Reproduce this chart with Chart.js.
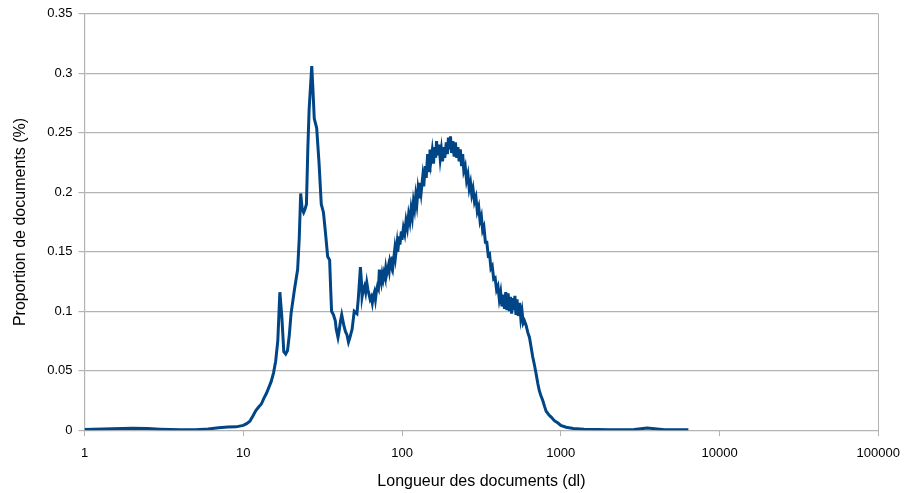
<!DOCTYPE html>
<html>
<head>
<meta charset="utf-8">
<script src="https://cdn.jsdelivr.net/npm/chart.js@4/dist/chart.umd.min.js"></script>
<style>
html,body{margin:0;padding:0;background:#fff;}
#wrap{width:909px;height:493px;position:relative;}
</style>
</head>
<body>
<div id="wrap"><canvas id="c" width="909" height="493"></canvas></div>
<script>
// Document length (dl)
const lengths = [
1,1.5,2,2.5,3,4,5,6,7,8,9,10,10.5,11,11.5,12,12.5,13,13.5,14,14.5,15,15.5,16,16.5,17,17.5,18,18.5,19,19.5,20,21,22,22.5,23,23.5,24,24.5,25,25.5,26,27,27.5,28,29,30,31,32,33,34,35,35.5,36,37,38,38.5,39.5,40,41,41.7,43,44,45,46,47,48.5,50,52,53,54.7,55.5,56,57,58,59,60,61,62,63,64,65,66,67,68,69,70,71,72,73,74,75,76,77,78,79,80,82,83,84,86,87,88,90,91,93,94,96,97,99,100,102,104,106,108,110,112,114,116,118,120,122,124,126,128,130,132,135,137,140,142,145,148,150,152,155,158,160,163,165,168,171,174,177,180,183,186,190,193,196,199,202,205,209,213,217,221,225,229,233,237,241,245,250,255,260,265,270,275,280,286,292,298,304,310,316,322,328,335,342,349,356,363,370,378,386,394,402,410,418,426,434,442,450,458,466,474,482,490,498,506,514,522,530,540,550,560,570,580,590,605,620,635,650,665,682,700,717,733,750,770,790,808,840,870,911,960,1000,1080,1200,1400,1700,2000,2500,2730,2900,3500,4500,6364
];
// Proportion of documents (%)
const proportions = [
0.0005,0.0012,0.0017,0.0014,0.0009,0.0004,0.0004,0.0010,0.0020,0.0026,0.0028,0.0040,0.0055,0.0075,0.012,0.0165,0.0195,0.022,0.027,0.031,0.036,0.041,0.048,0.058,0.075,0.116,0.095,0.066,0.064,0.067,0.080,0.098,0.118,0.135,0.160,0.199,0.186,0.183,0.186,0.190,0.236,0.270,0.306,0.285,0.262,0.254,0.225,0.190,0.183,0.165,0.146,0.143,0.120,0.100,0.097,0.092,0.085,0.078,0.082,0.092,0.097,0.088,0.083,0.080,0.074,0.078,0.085,0.100,0.098,0.110,0.137,0.125,0.112,0.118,0.121,0.116,0.124,0.118,0.114,0.110,0.112,0.107,0.113,0.116,0.110,0.117,0.121,0.119,0.135,0.128,0.124,0.131,0.127,0.132,0.129,0.136,0.131,0.138,0.134,0.142,0.137,0.146,0.140,0.152,0.146,0.157,0.150,0.163,0.156,0.167,0.160,0.170,0.165,0.176,0.170,0.181,0.175,0.186,0.179,0.192,0.186,0.197,0.190,0.202,0.195,0.208,0.200,0.213,0.205,0.222,0.212,0.232,0.218,0.236,0.226,0.235,0.224,0.238,0.229,0.243,0.231,0.240,0.228,0.236,0.226,0.238,0.229,0.242,0.232,0.246,0.236,0.247,0.233,0.243,0.230,0.242,0.229,0.238,0.226,0.236,0.222,0.232,0.218,0.222,0.210,0.215,0.203,0.208,0.198,0.203,0.192,0.196,0.184,0.188,0.176,0.180,0.168,0.171,0.158,0.158,0.147,0.148,0.136,0.138,0.127,0.128,0.118,0.121,0.110,0.116,0.104,0.114,0.102,0.116,0.101,0.115,0.100,0.112,0.098,0.111,0.101,0.113,0.097,0.110,0.096,0.107,0.094,0.100,0.090,0.092,0.088,0.082,0.078,0.070,0.062,0.055,0.047,0.039,0.033,0.029,0.025,0.020,0.016,0.013,0.011,0.008,0.006,0.004,0.0025,0.0015,0.0008,0.0005,0.0004,0.0004,0.0003,0.0005,0.0018,0.0004,0.0003,0.0002,0.0002
];
const xTicks = [1, 10, 100, 1000, 10000, 100000];
const xTickLabels = ["1", "10", "100", "1000", "10000", "100000"];
const yTicks = [0, 0.05, 0.1, 0.15, 0.2, 0.25, 0.3, 0.35];
const yTickLabels = ["0", "0.05", "0.1", "0.15", "0.2", "0.25", "0.3", "0.35"];

const points = lengths.map((x, i) => ({x: x, y: proportions[i]}));
const gridCol = '#b3b3b3';
const fontFam = '"Liberation Sans", Arial, sans-serif';

new Chart(document.getElementById('c'), {
  type: 'line',
  data: {
    datasets: [{
      data: points,
      borderColor: '#004586',
      backgroundColor: '#004586',
      borderWidth: 3,
      pointRadius: 0,
      tension: 0,
      fill: false
    }]
  },
  options: {
    responsive: false,
    animation: false,
    layout: {padding: {left: 11, right: 30, top: 10, bottom: 2}},
    plugins: {legend: {display: false}, tooltip: {enabled: false}},
    scales: {
      x: {
        type: 'logarithmic',
        min: 1, max: 100000,
        afterBuildTicks: (ax) => { ax.ticks = xTicks.map(v => ({value: v})); },
        ticks: {
          autoSkip: false, maxRotation: 0,
          color: '#000', font: {family: fontFam, size: 13},
          padding: 9,
          callback: (v) => { const i = xTicks.indexOf(v); return i >= 0 ? xTickLabels[i] : ''; }
        },
        grid: {
          color: (ctx) => (ctx.index === xTicks.length - 1 ? gridCol : 'rgba(0,0,0,0)'),
          tickColor: gridCol, tickLength: 6, drawOnChartArea: true
        },
        border: {display: false},
        title: {display: true, text: 'Longueur des documents (dl)', color: '#000',
                font: {family: fontFam, size: 16}, padding: {top: 2, bottom: 0}}
      },
      y: {
        min: 0, max: 0.35,
        afterBuildTicks: (ax) => { ax.ticks = yTicks.map(v => ({value: v})); },
        ticks: {
          color: '#000', font: {family: fontFam, size: 13}, padding: 6,
          callback: (v) => { const i = yTicks.findIndex(t => Math.abs(t - v) < 1e-9); return i >= 0 ? yTickLabels[i] : ''; }
        },
        grid: {color: gridCol, tickColor: gridCol, tickLength: 6, lineWidth: 1.2},
        border: {display: true, color: gridCol, width: 1.2},
        title: {display: true, text: 'Proportion de documents (%)', color: '#000',
                font: {family: fontFam, size: 16}, padding: {top: 0, bottom: 11}}
      }
    }
  }
});
</script>
</body>
</html>
